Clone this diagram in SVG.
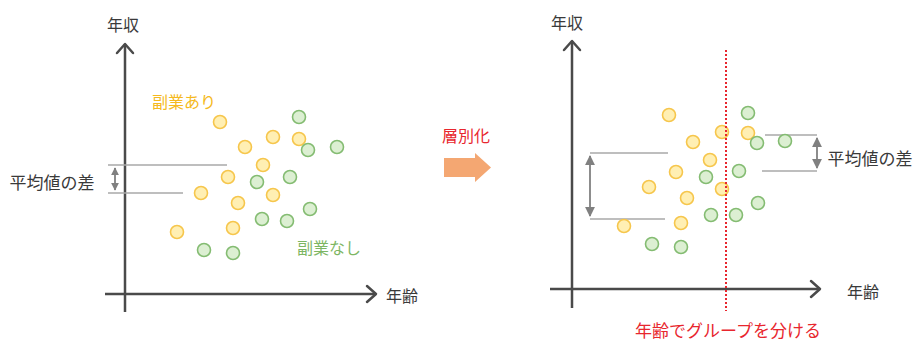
<svg xmlns="http://www.w3.org/2000/svg" width="918" height="340" viewBox="0 0 918 340">
<style>
text{font-family:"Noto Sans CJK JP","Noto Sans",sans-serif;font-size:16px;dominant-baseline:central;text-anchor:middle}
.lbl{fill:#3a3a3a}
.red{fill:#E8262E}
.axis{stroke:#4a4a4a;stroke-width:2.5;fill:none}
.ah{stroke:#4a4a4a;stroke-width:2.5;fill:none;stroke-linecap:round;stroke-linejoin:round}
.o{fill:#FFEFB3;stroke:#F6C64C;stroke-width:1.6}
.g{fill:#DCEFD2;stroke:#84BC72;stroke-width:1.6}
.gl{stroke:#A8A8A8;stroke-width:1.3}
.da{stroke:#808080;stroke-width:1.8}
</style>
<defs>
<marker id="tri" viewBox="0 0 10 10" refX="9" refY="5" markerWidth="5.5" markerHeight="5.5" orient="auto-start-reverse">
<path d="M0,0 L10,5 L0,10 z" fill="#808080"/>
</marker>
<marker id="tris" viewBox="0 0 10 10" refX="9" refY="5" markerWidth="4.5" markerHeight="4.5" orient="auto-start-reverse">
<path d="M0,0 L10,5 L0,10 z" fill="#808080"/>
</marker>
</defs>

<!-- Left chart -->
<g id="left-axes">
<line class="axis" x1="125" y1="312" x2="125" y2="44"/>
<polyline class="ah" points="117,53 125,44 133,53"/>
<line class="axis" x1="105" y1="294" x2="376" y2="294"/>
<polyline class="ah" points="367,286 376,294 367,302"/>
<text class="lbl" x="123" y="24">年収</text>
<text class="lbl" x="402" y="295">年齢</text>
</g>
<g id="left-labels">
<text x="184" y="101" style="fill:#F5B920">副業あり</text>
<text x="329" y="247" style="fill:#7DB663">副業なし</text>
<text class="lbl" x="52" y="181" style="font-size:17px">平均値の差</text>
</g>
<g id="left-mean-diff">
<line class="gl" x1="108" y1="165" x2="227" y2="165"/>
<line class="gl" x1="108" y1="193" x2="183" y2="193"/>
<line class="da" x1="115" y1="168" x2="115" y2="190" marker-start="url(#tris)" marker-end="url(#tris)"/>
</g>
<g id="left-points">
<circle class="o" cx="220" cy="122" r="6.5"/>
<circle class="o" cx="245" cy="147" r="6.5"/>
<circle class="o" cx="273" cy="137" r="6.5"/>
<circle class="o" cx="299" cy="139" r="6.5"/>
<circle class="o" cx="263" cy="165" r="6.5"/>
<circle class="o" cx="228" cy="177" r="6.5"/>
<circle class="o" cx="201" cy="193" r="6.5"/>
<circle class="o" cx="273" cy="195" r="6.5"/>
<circle class="o" cx="238" cy="203" r="6.5"/>
<circle class="o" cx="177" cy="232" r="6.5"/>
<circle class="o" cx="233" cy="228" r="6.5"/>
<circle class="g" cx="299" cy="117" r="6.5"/>
<circle class="g" cx="308" cy="150" r="6.5"/>
<circle class="g" cx="337" cy="147" r="6.5"/>
<circle class="g" cx="290" cy="177" r="6.5"/>
<circle class="g" cx="257" cy="182" r="6.5"/>
<circle class="g" cx="310" cy="209" r="6.5"/>
<circle class="g" cx="262" cy="219" r="6.5"/>
<circle class="g" cx="287" cy="221" r="6.5"/>
<circle class="g" cx="204" cy="250" r="6.5"/>
<circle class="g" cx="233" cy="253" r="6.5"/>
</g>

<!-- Middle arrow -->
<g id="stratify">
<text class="red" x="466" y="135">層別化</text>
<path d="M444,158 L475,158 L475,153 L491,167.5 L475,182 L475,177 L444,177 z" fill="#F4A772"/>
</g>

<!-- Right chart -->
<g id="right-axes">
<line class="axis" x1="572" y1="308" x2="572" y2="41"/>
<polyline class="ah" points="564,50 572,41 580,50"/>
<line class="axis" x1="550" y1="289" x2="820" y2="289"/>
<polyline class="ah" points="811,281 820,289 811,297"/>
<text class="lbl" x="567" y="22">年収</text>
<text class="lbl" x="863" y="291">年齢</text>
</g>
<g id="right-mean-diff">
<line class="gl" x1="590" y1="153" x2="668" y2="153"/>
<line class="gl" x1="590" y1="219" x2="665" y2="219"/>
<line class="da" x1="590" y1="156" x2="590" y2="216" marker-start="url(#tri)" marker-end="url(#tri)"/>
<line class="gl" x1="765" y1="135" x2="817" y2="135"/>
<line class="gl" x1="762" y1="171" x2="817" y2="171"/>
<line class="da" x1="817" y1="138" x2="817" y2="168" marker-start="url(#tri)" marker-end="url(#tri)"/>
<text class="lbl" x="870" y="157" style="font-size:17px">平均値の差</text>
</g>
<g id="right-points">
<circle class="o" cx="669" cy="115" r="6.5"/>
<circle class="o" cx="722" cy="132" r="6.5"/>
<circle class="o" cx="748" cy="133" r="6.5"/>
<circle class="o" cx="693" cy="142" r="6.5"/>
<circle class="o" cx="710" cy="160" r="6.5"/>
<circle class="o" cx="676" cy="172" r="6.5"/>
<circle class="o" cx="649" cy="187" r="6.5"/>
<circle class="o" cx="722" cy="189" r="6.5"/>
<circle class="o" cx="687" cy="198" r="6.5"/>
<circle class="o" cx="681" cy="223" r="6.5"/>
<circle class="o" cx="624" cy="226" r="6.5"/>
<circle class="g" cx="748" cy="113" r="6.5"/>
<circle class="g" cx="757" cy="143" r="6.5"/>
<circle class="g" cx="785" cy="141" r="6.5"/>
<circle class="g" cx="739" cy="171" r="6.5"/>
<circle class="g" cx="706" cy="177" r="6.5"/>
<circle class="g" cx="758" cy="203" r="6.5"/>
<circle class="g" cx="711" cy="215" r="6.5"/>
<circle class="g" cx="736" cy="215" r="6.5"/>
<circle class="g" cx="652" cy="244" r="6.5"/>
<circle class="g" cx="681" cy="247" r="6.5"/>
</g>
<g id="age-split">
<line x1="726" y1="50" x2="726" y2="311" stroke="#E8262E" stroke-width="2" stroke-dasharray="2 2"/>
<text class="red" x="728" y="329" style="font-size:17px">年齢でグループを分ける</text>
</g>
</svg>
